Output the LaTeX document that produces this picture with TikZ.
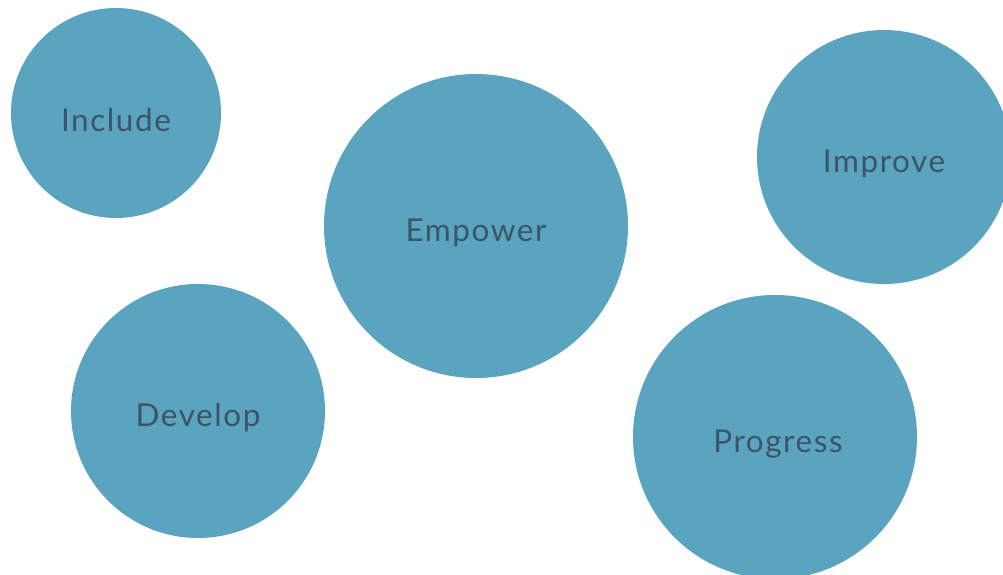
\documentclass[tikz,border=0pt]{standalone}
\usepackage{fontspec}
\setmainfont{Lato}[LetterSpace=5]
\usepackage{tikz}

\definecolor{bubble}{HTML}{5BA4C0}
\definecolor{bubbletext}{HTML}{3B5566}

\tikzset{
	bubble/.style = {circle, fill=bubble, inner sep=0pt},
	bubbletxt/.style = {text=bubbletext, inner sep=0pt, font=\fontsize{31.5}{38}\selectfont},
}

\begin{document}
\begin{tikzpicture}[x=1pt, y=-1pt]
		%frame
		\useasboundingbox (0,0) rectangle (1003,575);
		\clip (0,0) rectangle (1003,575);
		
		%bubbles
		\node [bubble, minimum size=210pt] (include) at (116,113) {};
		\node [bubble, minimum size=304pt] (empower) at (476,226) {};
		\node [bubble, minimum size=254pt] (improve) at (884,157) {};
		\node [bubble, minimum size=254pt] (develop) at (198,411) {};
		\node [bubble, minimum size=284pt] (progress) at (775,437) {};
		
		%labels
		\node [bubbletxt] (include-txt) at ([yshift=-7pt] include.center) {Include};
		\node [bubbletxt] (empower-txt) at ([yshift=-7pt] empower.center) {Empower};
		\node [bubbletxt] (improve-txt) at ([yshift=-7pt] improve.center) {Improve};
		\node [bubbletxt] (develop-txt) at ([yshift=-7pt] develop.center) {Develop};
		\node [bubbletxt, xshift=3pt] (progress-txt) at ([yshift=-7pt] progress.center) {Progress};
	\end{tikzpicture}
\end{document}
